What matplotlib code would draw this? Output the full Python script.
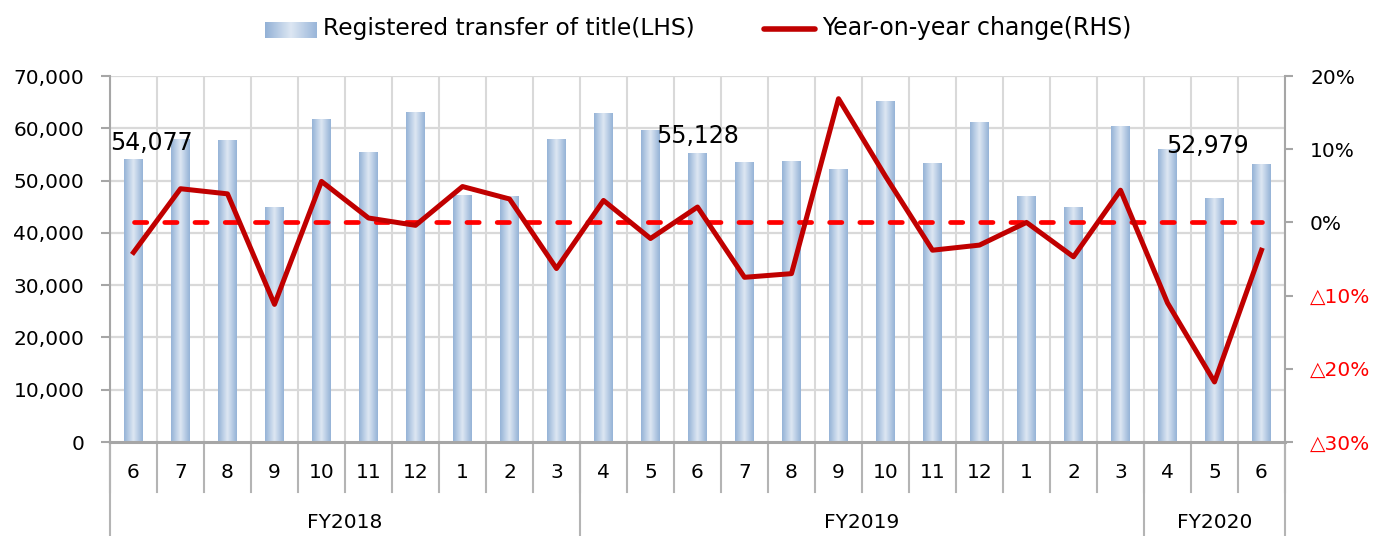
import numpy as np
import matplotlib.pyplot as plt
from matplotlib.colors import LinearSegmentedColormap

# data
months = ["6", "7", "8", "9", "10", "11", "12", "1", "2", "3",
          "4", "5", "6", "7", "8", "9", "10", "11", "12", "1", "2", "3",
          "4", "5", "6"]
fiscal_years = ["FY2018", "FY2019", "FY2020"]
fy_lengths = [10, 12, 3]
transfers = [54077, 57800, 57600, 44800, 61600, 55300, 63100, 47100, 46900, 57900,
             62900, 59500, 55128, 53400, 53600, 52200, 65200, 53200, 61200, 47000,
             44800, 60400, 56000, 46500, 52979]
yoy_change = [-4.1, 4.6, 3.9, -11.2, 5.6, 0.6, -0.4, 4.9, 3.2, -6.3,
              3.0, -2.2, 2.1, -7.5, -7.0, 16.9, 6.3, -3.8, -3.1, 0.0,
              -4.7, 4.4, -11.0, -21.8, -3.8]
labelled_bars = [0, 12, 24]
left_ticks = [0, 10000, 20000, 30000, 40000, 50000, 60000, 70000]
right_ticks = [-30, -20, -10, 0, 10, 20]

plt.rcParams["font.family"] = ["DejaVu Sans"]

W, H = 1381, 536
fig = plt.figure(figsize=(W / 100, H / 100), dpi=100)
ax_l, ax_r, ax_b, ax_t = 110, 1285, 442, 76
ax = fig.add_axes([ax_l / W, 1 - ax_b / H, (ax_r - ax_l) / W, (ax_b - ax_t) / H])
ax2 = ax.twinx()

n = len(months)
x = np.arange(n)
grid_c = "#d9d9d9"
axis_c = "#a6a6a6"
sep_c = "#b4b4b4"
fs = 14.5

# gradient bars
bar_cmap = LinearSegmentedColormap.from_list(
    "bar", [(0, "#95b3d7"), (0.5, "#dde7f3"), (1, "#95b3d7")])
grad = np.linspace(0, 1, 64).reshape(1, -1)
bw = 0.4
for i, v in enumerate(transfers):
    ax.imshow(grad, cmap=bar_cmap, aspect="auto", extent=(i - bw / 2, i + bw / 2, 0, v),
              zorder=2, interpolation="bilinear")

ax.set_xlim(-0.5, n - 0.5)
ax.set_ylim(0, 70000)
ax.set_yticks(left_ticks)
ax.set_yticklabels([f"{t:,}" for t in left_ticks], fontsize=fs)
ax.set_xticks([])
for k in range(n + 1):
    ax.axvline(k - 0.5, color=grid_c, lw=1.5, zorder=1)
for t in left_ticks[1:]:
    ax.axhline(t, color=grid_c, lw=1.6, zorder=1)

for a in (ax, ax2):
    a.spines["top"].set_visible(False)
    a.spines["bottom"].set_visible(False)
ax.spines["right"].set_visible(False)
ax2.spines["left"].set_visible(False)
ax.spines["left"].set_color(axis_c)
ax.spines["left"].set_linewidth(1.5)
ax2.spines["right"].set_color(axis_c)
ax2.spines["right"].set_linewidth(1.5)
ax.tick_params(axis="y", length=6.5, color=axis_c, width=1.5, pad=12)
ax2.tick_params(axis="y", length=6, color=axis_c, width=1.5, pad=12)
ax.axhline(0, color=axis_c, lw=2.2, zorder=3, clip_on=False)

# data labels
label_offsets = {0: (18, 16), 12: (0, 18), 24: (-54, 19)}
for i in labelled_bars:
    ax.annotate(f"{transfers[i]:,}", (i, transfers[i]), xytext=label_offsets[i],
                textcoords="offset pixels", ha="center", va="center",
                fontsize=17, zorder=5)

# lines on right axis
ax2.plot(x, [0] * n, color="#ff0000", lw=3.4, ls=(0, (2.6, 3.8)),
         dash_capstyle="round", zorder=3)
ax2.plot(x, yoy_change, color="#c00000", lw=3.6, zorder=4)
ax2.set_ylim(-30, 20)
ax2.set_yticks(right_ticks)
ax2.set_yticklabels([f"{t}%" if t >= 0 else f"\u25b3{-t}%" for t in right_ticks],
                    fontsize=fs)
for lab, t in zip(ax2.get_yticklabels(), right_ticks):
    if t < 0:
        lab.set_color("#ff0000")

# two-level category axis
xt = ax.get_xaxis_transform()
px = 1 / (ax_b - ax_t)
month_bottom = -(492 - ax_b) * px
year_bottom = -(H - ax_b) * px
for k in range(n + 1):
    ax.plot([k - 0.5, k - 0.5], [0, month_bottom], color=sep_c, lw=1.5,
            transform=xt, clip_on=False)
for i, m in enumerate(months):
    ax.text(i, -(473 - ax_b) * px, m, transform=xt, ha="center", va="center",
            fontsize=fs)
start = 0
ax.plot([-0.5, -0.5], [0, year_bottom], color=sep_c, lw=1.5,
        transform=xt, clip_on=False)
for fy, ln in zip(fiscal_years, fy_lengths):
    end = start + ln
    ax.plot([end - 0.5, end - 0.5], [0, year_bottom], color=sep_c, lw=1.5,
            transform=xt, clip_on=False)
    ax.text((start + end - 1) / 2, -(522 - ax_b) * px, fy, transform=xt,
            ha="center", va="center", fontsize=fs)
    start = end

# legend drawn by hand
lg = fig.add_axes([265 / W, 1 - 38 / H, 52 / W, 16 / H])
lg.imshow(grad, cmap=LinearSegmentedColormap.from_list(
    "lg", ["#93b1d6", "#dde7f3", "#9ab6d9"]), aspect="auto")
lg.axis("off")
fig.text(323 / W, 1 - 28 / H, "Registered transfer of title(LHS)", va="center",
         fontsize=16.8)
fig.lines.append(plt.Line2D([764 / W, 815 / W], [1 - 29 / H, 1 - 29 / H],
                            color="#c00000", lw=4, transform=fig.transFigure,
                            solid_capstyle="round"))
fig.text(822 / W, 1 - 28 / H, "Year-on-year change(RHS)", va="center", fontsize=17)

fig.savefig("out.png", dpi=100)
